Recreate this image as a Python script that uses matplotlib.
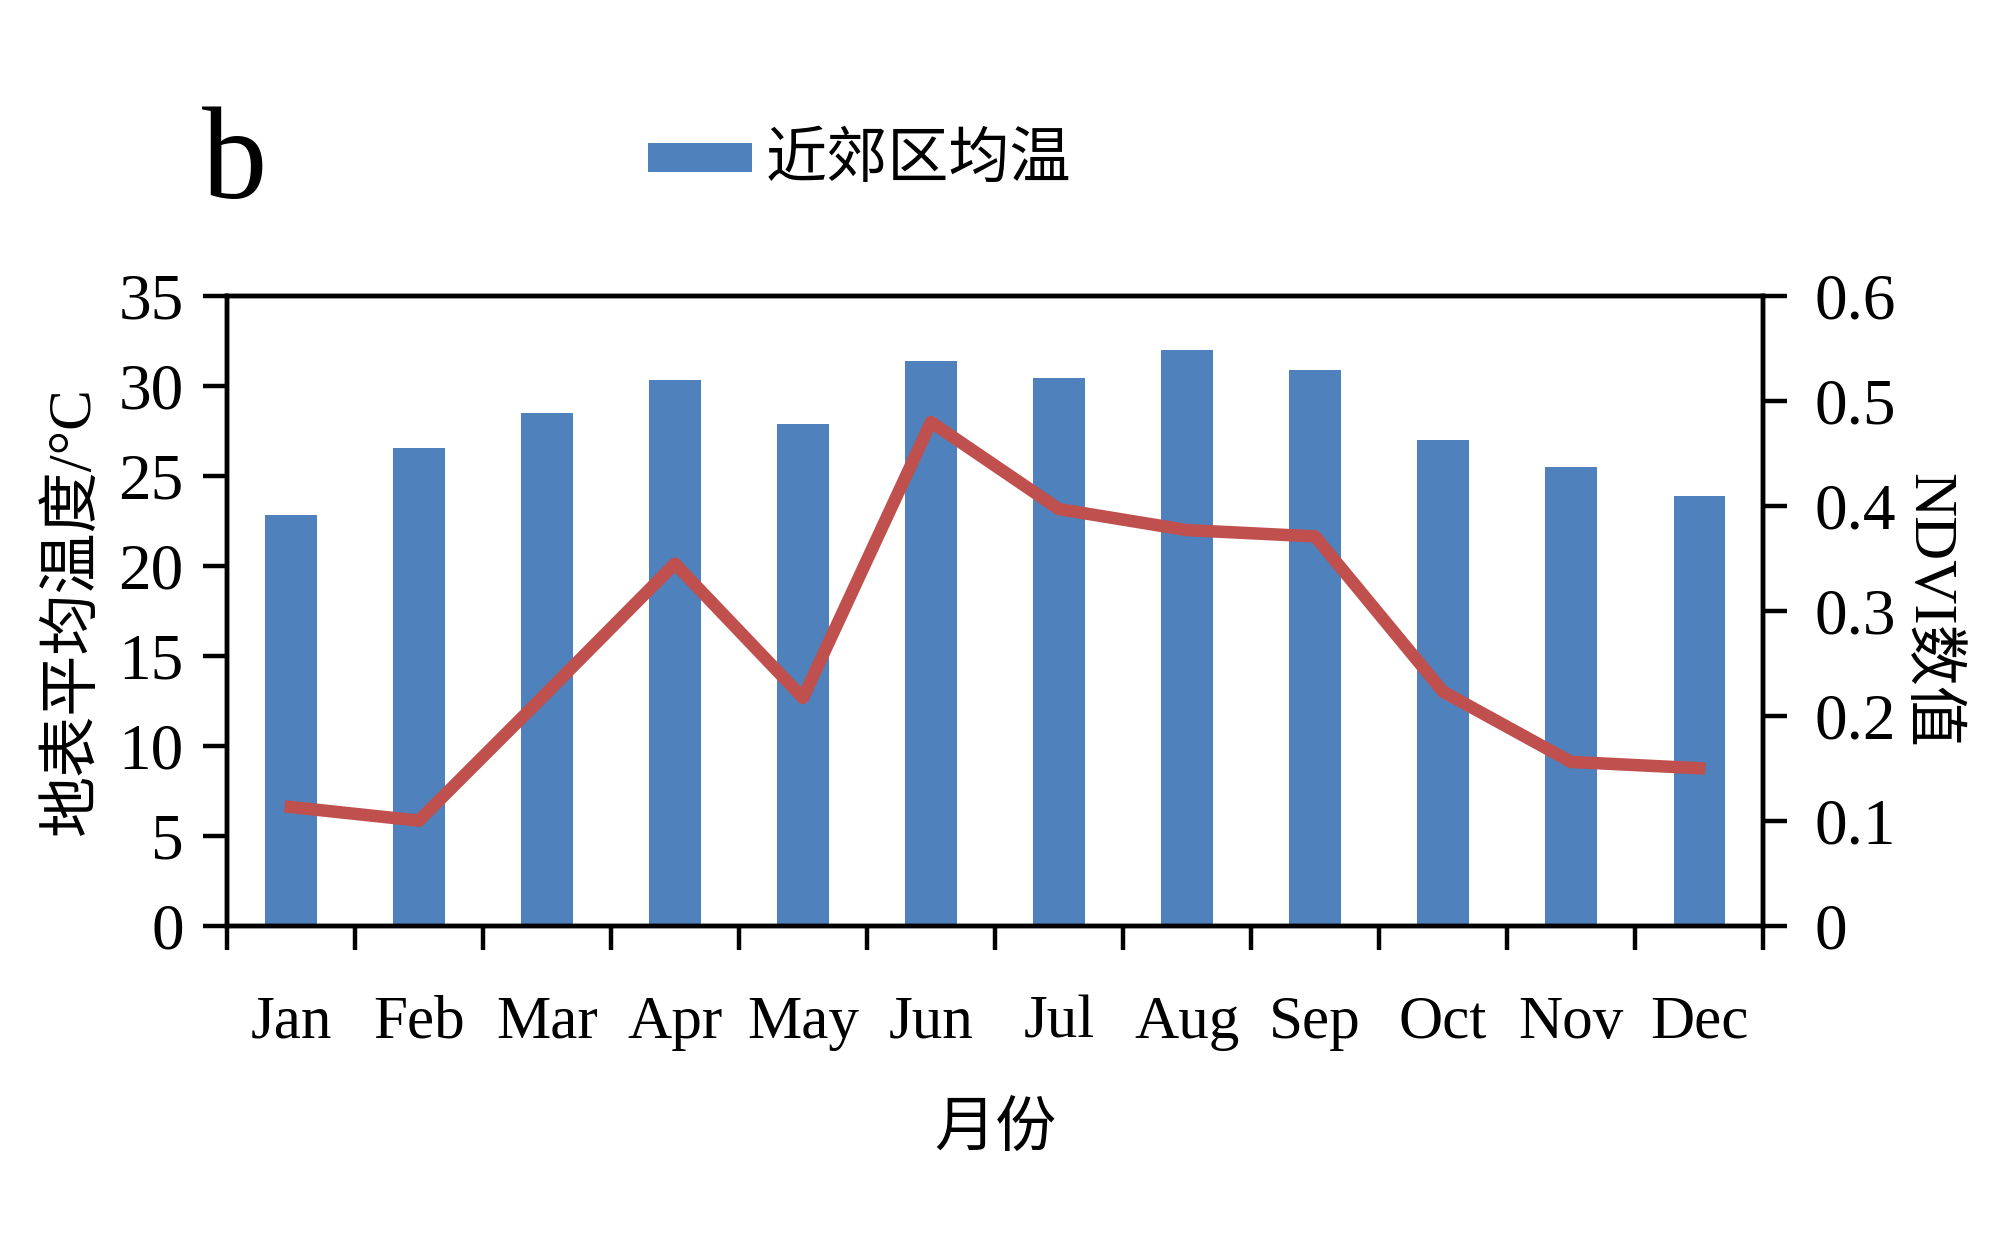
import matplotlib
matplotlib.use("Agg")
import matplotlib.pyplot as plt
from matplotlib.patches import Rectangle
import numpy as np

plt.rcParams['font.family'] = ['Liberation Serif', 'Noto Sans CJK SC']
plt.rcParams['axes.unicode_minus'] = False

# dados
meses = ['Jan', 'Feb', 'Mar', 'Apr', 'May', 'Jun', 'Jul', 'Aug', 'Sep', 'Oct', 'Nov', 'Dec']
temp = [22.85, 26.55, 28.5, 30.36, 27.9, 31.37, 30.46, 32.02, 30.88, 27.01, 25.52, 23.87]
ndvi = [0.113, 0.100, 0.222, 0.345, 0.217, 0.480, 0.397, 0.377, 0.371, 0.223, 0.156, 0.150]
ticks_esq = [0, 5, 10, 15, 20, 25, 30, 35]
ticks_dir = [0, 0.1, 0.2, 0.3, 0.4, 0.5, 0.6]
rotulos_dir = ['0', '0.1', '0.2', '0.3', '0.4', '0.5', '0.6']

azul = '#4F81BD'
vermelho = '#C0504D'
fs = 44
lw = 3.2

fig = plt.figure(figsize=(19.99, 12.55), dpi=100)
ax = fig.add_axes([0.1135, 0.2625, 0.7685, 0.5015])
x = np.arange(len(meses))

# barras de temperatura
ax.bar(x, temp, width=0.4, color=azul, zorder=2)
ax.set_xlim(-0.5, len(meses) - 0.5)
ax.set_ylim(0, 35)
ax.set_yticks(ticks_esq)
ax.set_xticks(np.arange(-0.5, len(meses), 1.0))
ax.set_xticklabels([])
ax.set_xticks(x, minor=True)
ax.set_xticklabels(meses, minor=True)
ax.tick_params(axis='x', which='major', direction='out', length=17, width=lw)
ax.tick_params(axis='x', which='minor', length=0, pad=50, labelsize=fs)
ax.tick_params(axis='y', direction='out', length=17, width=lw, pad=14, labelsize=47)
for s in ax.spines.values():
    s.set_linewidth(lw)
ax.set_ylabel('地表平均温度/°C', fontsize=fs, labelpad=12)
ax.set_xlabel('月份', fontsize=fs, labelpad=38)

# linha do NDVI no eixo da direita
ax2 = ax.twinx()
ax2.plot(x, ndvi, color=vermelho, linewidth=9, zorder=3)
ax2.set_ylim(0, 0.6)
ax2.set_yticks(ticks_dir)
ax2.set_yticklabels(rotulos_dir)
ax2.tick_params(axis='y', direction='out', length=17, width=lw, pad=20, labelsize=47)
for s in ax2.spines.values():
    s.set_linewidth(lw)
ax2.set_ylabel('NDVI数值', fontsize=fs, rotation=270, labelpad=44)

# letra do painel e legenda
fig.text(0.101, 0.842, 'b', fontsize=94, ha='left', va='baseline')
fig.patches.append(Rectangle((0.324, 0.863), 0.052, 0.023, transform=fig.transFigure,
                             facecolor=azul, edgecolor='none'))
fig.text(0.383, 0.871, '近郊区均温', fontsize=fs, ha='left', va='center')

plt.savefig('out.png', dpi=100)
